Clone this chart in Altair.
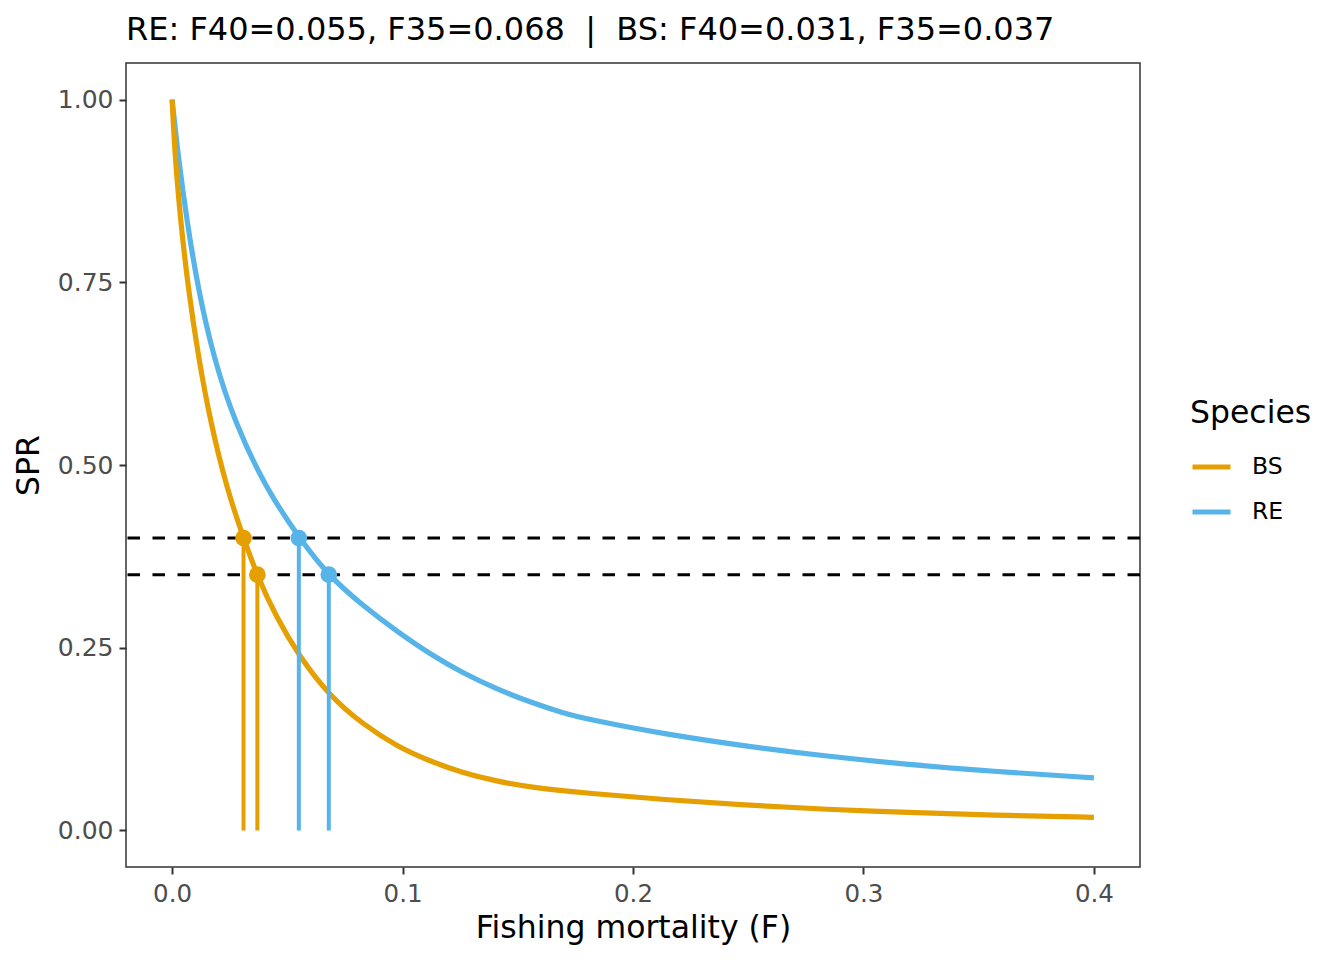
import altair as alt
import pandas as pd

# RE curve (F, SPR)
re_F = [0.0, 0.0027, 0.0066, 0.0114, 0.0179, 0.0273, 0.0411, 0.055, 0.068, 0.083, 0.0975, 0.1119,
        0.1264, 0.1409, 0.1553, 0.1698, 0.1813, 0.2133, 0.2488, 0.2843, 0.3197, 0.3552, 0.4]
re_SPR = [1.0, 0.921, 0.830, 0.739, 0.648, 0.557, 0.466, 0.401, 0.348, 0.307, 0.2725, 0.2413,
          0.2150, 0.1935, 0.1755, 0.1605, 0.1514, 0.1320, 0.1152, 0.1015, 0.090, 0.081, 0.072]
# BS curve (F, SPR)
bs_F = [0.0, 0.0013, 0.0038, 0.0071, 0.0114, 0.0165, 0.0237, 0.031, 0.037, 0.045, 0.0552, 0.0685,
        0.083, 0.0975, 0.1119, 0.1264, 0.1409, 0.1553, 0.1813, 0.2133, 0.2488, 0.2843, 0.3197,
        0.3552, 0.4]
bs_SPR = [1.0, 0.921, 0.830, 0.739, 0.648, 0.561, 0.468, 0.400, 0.348, 0.293, 0.238, 0.1835,
          0.1448, 0.115, 0.0947, 0.0786, 0.0673, 0.059, 0.0505, 0.0423, 0.0346, 0.0287, 0.0246,
          0.021, 0.018]

ref_species = ["RE", "RE", "BS", "BS"]
ref_F = [0.055, 0.068, 0.031, 0.037]
ref_SPR = [0.40, 0.35, 0.40, 0.35]
hlines = [0.40, 0.35]

curves = pd.DataFrame({
    "F": re_F + bs_F,
    "SPR": re_SPR + bs_SPR,
    "Species": ["RE"] * len(re_F) + ["BS"] * len(bs_F),
})
refs = pd.DataFrame({"F": ref_F, "SPR": ref_SPR, "Species": ref_species, "zero": [0.0] * 4})
hl = pd.DataFrame({"y": hlines})

FONT = "DejaVu Sans"
cscale = alt.Scale(domain=["BS", "RE"], range=["#E69F00", "#56B4E9"])
xs = alt.Scale(domain=[-0.02, 0.42], nice=False, zero=False)
ys = alt.Scale(domain=[-0.05, 1.05], nice=False, zero=False)

xaxis = alt.Axis(values=[0, 0.1, 0.2, 0.3, 0.4], format=".1f", title="Fishing mortality (F)",
                 grid=False, domain=False, tickColor="#333333", tickSize=7, tickWidth=2,
                 labelFontSize=24.5, labelColor="#4D4D4D", labelFont=FONT,
                 labelBaseline="alphabetic", labelPadding=27,
                 titleFont=FONT, titleFontSize=31.5, titleFontWeight="normal", titleColor="black",
                 titleBaseline="alphabetic", titleX=507, titleY=70, titleAnchor="middle")
yaxis = alt.Axis(values=[0, 0.25, 0.5, 0.75, 1.0], format=".2f", title="SPR",
                 grid=False, domain=False, tickColor="#333333", tickSize=7, tickWidth=2,
                 labelFontSize=25, labelColor="#4D4D4D", labelFont=FONT, labelPadding=6,
                 titleFont=FONT, titleFontSize=31.5, titleFontWeight="normal", titleColor="black",
                 titleBaseline="alphabetic", titleAngle=270, titleX=-88, titleY=402,
                 titleAnchor="middle")

lines = alt.Chart(curves).mark_line(strokeWidth=5.2, interpolate="basis").encode(
    x=alt.X("F:Q", scale=xs, axis=xaxis),
    y=alt.Y("SPR:Q", scale=ys, axis=yaxis),
    color=alt.Color("Species:N", scale=cscale,
                    legend=alt.Legend(title="Species", orient="none", legendX=1064, legendY=335,
                                      titleFontSize=31.5, titleFont=FONT, titleFontWeight="normal",
                                      titleColor="black", labelFontSize=23.5, labelFont=FONT,
                                      labelColor="black", symbolType="stroke", symbolStrokeWidth=5,
                                      symbolSize=1444, rowPadding=12, titlePadding=16, labelOffset=19,
                                      padding=0)),
    detail="Species:N",
)

vrules = alt.Chart(refs).mark_rule(strokeWidth=4).encode(
    x=alt.X("F:Q", scale=xs), y=alt.Y("zero:Q", scale=ys), y2="SPR:Q",
    color=alt.Color("Species:N", scale=cscale, legend=None),
)
pts = alt.Chart(refs).mark_circle(size=280, opacity=1).encode(
    x=alt.X("F:Q", scale=xs), y=alt.Y("SPR:Q", scale=ys),
    color=alt.Color("Species:N", scale=cscale, legend=None),
)
dashes = alt.Chart(hl).mark_rule(strokeWidth=3, strokeDash=[12.5, 12.5], color="black").encode(
    y=alt.Y("y:Q", scale=ys)
)

chart = alt.layer(lines, dashes, vrules, pts).properties(
    width=1014, height=804,
    title=alt.TitleParams("RE: F40=0.055, F35=0.068 \u00a0|\u00a0 BS: F40=0.031, F35=0.037",
                          anchor="start", frame="group", fontSize=32, font=FONT,
                          fontWeight="normal", color="black", offset=16),
    autosize=alt.AutoSizeParams(type="none"),
    padding={"left": 118, "top": 55, "right": 196, "bottom": 85},
).configure(background="white").configure_view(stroke="#333333", strokeWidth=1.5)

chart.save("out.html", embed_options={"renderer": "svg", "actions": False})
